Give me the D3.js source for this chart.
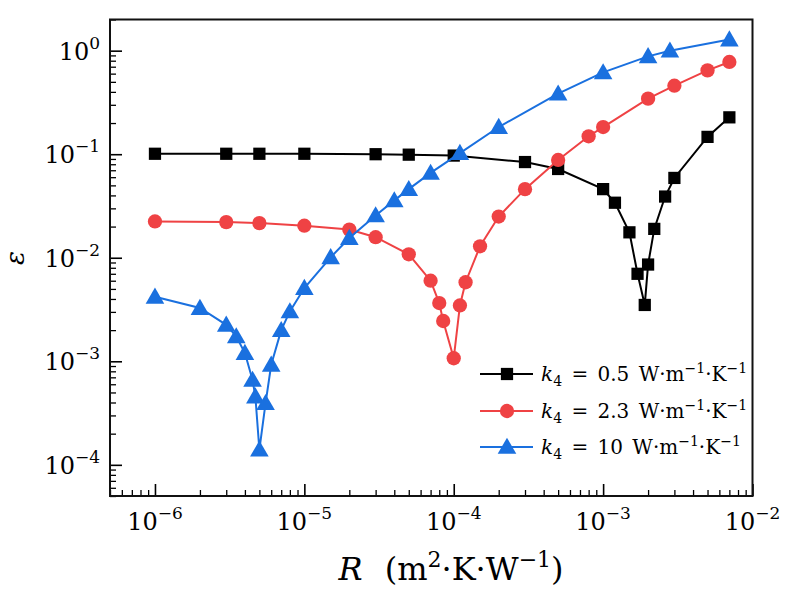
<!DOCTYPE html>
<html>
<head>
<meta charset="utf-8">
<script src="https://cdn.jsdelivr.net/npm/d3@7"></script>
<style>
  html, body { margin: 0; padding: 0; background: #fff; }
  svg { display: block; }
  text { font-family: "DejaVu Serif", serif; fill: #000; }
</style>
</head>
<body>
<svg id="chart" width="793" height="597"></svg>
<script>
// ---------------- data ----------------
const blackR = [1e-6, 3e-6, 5e-6, 1e-5, 3e-5, 5e-5, 1e-4, 3e-4, 5e-4, 1e-3, 1.2e-3, 1.5e-3, 1.7e-3, 1.9e-3, 2e-3, 2.2e-3, 2.6e-3, 3e-3, 5e-3, 7e-3];
const blackE = [0.101, 0.101, 0.101, 0.101, 0.100, 0.099, 0.097, 0.084, 0.072, 0.046, 0.034, 0.0176, 0.0070, 0.0035, 0.0086, 0.019, 0.039, 0.059, 0.147, 0.227];

const redR = [1e-6, 3e-6, 5e-6, 1e-5, 2e-5, 3e-5, 5e-5, 7e-5, 8e-5, 8.5e-5, 1e-4, 1.1e-4, 1.2e-4, 1.5e-4, 2e-4, 3e-4, 5e-4, 8e-4, 1e-3, 2e-3, 3e-3, 5e-3, 7e-3];
const redE = [0.0224, 0.0221, 0.0216, 0.0204, 0.0187, 0.0158, 0.0108, 0.0060, 0.00365, 0.00245, 0.00107, 0.00346, 0.0058, 0.0129, 0.025, 0.046, 0.088, 0.149, 0.183, 0.344, 0.459, 0.645, 0.778];

const blueR = [1e-6, 2e-6, 3e-6, 3.5e-6, 4e-6, 4.5e-6, 4.7e-6, 5e-6, 5.5e-6, 6e-6, 7e-6, 8e-6, 1e-5, 1.5e-5, 2e-5, 3e-5, 4e-5, 5e-5, 7e-5, 1.1e-4, 2e-4, 5e-4, 1e-3, 2e-3, 2.8e-3, 7e-3];
const blueE = [0.0042, 0.00327, 0.00225, 0.00174, 0.0012, 0.00066, 0.000457, 0.00014, 0.000394, 0.000925, 0.0020, 0.00303, 0.0051, 0.0101, 0.0155, 0.0256, 0.0358, 0.046, 0.066, 0.1025, 0.183, 0.384, 0.617, 0.881, 1.0, 1.28];

const seriesNames = ["0.5", "2.3", "10"];
const xTickExps = [-6, -5, -4, -3, -2];
const yTickExps = [0, -1, -2, -3, -4];
const xDomain = [5e-7, 1e-2];
const yDomain = [5e-5, 2];

// ---------------- layout ----------------
const L = 110, T = 19.5, R = 752.5, B = 496;
const svg = d3.select("#chart");
const x = d3.scaleLog().domain(xDomain).range([L, R]);
const y = d3.scaleLog().domain(yDomain).range([B, T]);

const colors = ["#000000", "#EF4244", "#1A70DF"];
const symbols = [d3.symbolSquare, d3.symbolCircle, d3.symbolTriangle];
const symSizes = [150, 160, 150];

function minorTicks(domain) {
  const out = [];
  const lo = Math.floor(Math.log10(domain[0])), hi = Math.ceil(Math.log10(domain[1]));
  for (let e = lo; e <= hi; e++) {
    for (let m = 2; m <= 9; m++) {
      const v = m * Math.pow(10, e);
      if (v >= domain[0] * 0.999 && v <= domain[1] * 1.001) out.push(v);
    }
  }
  return out;
}

// x ticks (inward)
svg.append("g").attr("transform", `translate(0,${B})`)
  .call(d3.axisBottom(x).tickValues(xTickExps.map(e => Math.pow(10, e))).tickSize(-12).tickFormat(""))
  .call(g => g.select(".domain").remove())
  .selectAll("line").attr("stroke", "#000").attr("stroke-width", 1.6);
svg.append("g").attr("transform", `translate(0,${B})`)
  .call(d3.axisBottom(x).tickValues(minorTicks(xDomain)).tickSize(-6).tickFormat(""))
  .call(g => g.select(".domain").remove())
  .selectAll("line").attr("stroke", "#000").attr("stroke-width", 1.3);

// y ticks (inward)
svg.append("g").attr("transform", `translate(${L},0)`)
  .call(d3.axisLeft(y).tickValues(yTickExps.map(e => Math.pow(10, e))).tickSize(-12).tickFormat(""))
  .call(g => g.select(".domain").remove())
  .selectAll("line").attr("stroke", "#000").attr("stroke-width", 1.6);
svg.append("g").attr("transform", `translate(${L},0)`)
  .call(d3.axisLeft(y).tickValues(minorTicks(yDomain)).tickSize(-6).tickFormat(""))
  .call(g => g.select(".domain").remove())
  .selectAll("line").attr("stroke", "#000").attr("stroke-width", 1.3);

// frame
svg.append("rect").attr("x", L).attr("y", T).attr("width", R - L).attr("height", B - T)
  .attr("fill", "none").attr("stroke", "#111").attr("stroke-width", 2);

// tick labels
function powLabel(sel, e) {
  sel.append("tspan").text("10");
  sel.append("tspan").attr("dy", -11).attr("font-size", 17).text(e < 0 ? "\u2212" + (-e) : String(e));
}
xTickExps.forEach(e => {
  const t = svg.append("text").attr("x", x(Math.pow(10, e))).attr("y", 530)
    .attr("text-anchor", "middle").attr("font-size", 24);
  powLabel(t, e);
});
yTickExps.forEach(e => {
  const t = svg.append("text").attr("x", 100).attr("y", y(Math.pow(10, e)) + 9)
    .attr("text-anchor", "end").attr("font-size", 24);
  powLabel(t, e);
});

// axis titles
const xt = svg.append("text").attr("x", 451).attr("y", 580).attr("text-anchor", "middle")
  .attr("font-size", 32).attr("word-spacing", 12);
xt.append("tspan").attr("font-style", "italic").text("R");
xt.append("tspan").text(" (m");
xt.append("tspan").attr("dy", -13).attr("font-size", 22).text("2");
xt.append("tspan").attr("dy", 13).text("\u00B7K\u00B7W");
xt.append("tspan").attr("dy", -13).attr("font-size", 22).text("\u22121");
xt.append("tspan").attr("dy", 13).text(")");

svg.append("text").attr("transform", "translate(24,258) rotate(-90)")
  .attr("text-anchor", "middle").attr("font-size", 26).attr("font-style", "italic").text("\u03B5");

// series
const allSeries = [
  { r: blackR, e: blackE },
  { r: redR, e: redE },
  { r: blueR, e: blueE }
];
const line = d3.line().x(d => x(d[0])).y(d => y(d[1]));
const plot = svg.append("g");
allSeries.forEach((s, i) => {
  const pts = s.r.map((r, k) => [r, s.e[k]]);
  plot.append("path").attr("d", line(pts)).attr("fill", "none")
    .attr("stroke", colors[i]).attr("stroke-width", 2);
  plot.selectAll(null).data(pts).enter().append("path")
    .attr("transform", d => `translate(${x(d[0])},${y(d[1])})` + (i === 2 ? " translate(0,1.5)" : ""))
    .attr("d", d3.symbol().type(symbols[i]).size(symSizes[i]))
    .attr("fill", colors[i]);
});

// legend
const legY = [374, 411, 447];
seriesNames.forEach((name, i) => {
  const g = svg.append("g");
  g.append("line").attr("x1", 480).attr("x2", 533).attr("y1", legY[i]).attr("y2", legY[i])
    .attr("stroke", colors[i]).attr("stroke-width", 2);
  g.append("path").attr("transform", `translate(507,${legY[i] + (i === 2 ? 1.5 : 0)})`)
    .attr("d", d3.symbol().type(symbols[i]).size(symSizes[i])).attr("fill", colors[i]);
  const t = g.append("text").attr("x", 541).attr("y", legY[i] + 7).attr("font-size", 20)
    .attr("word-spacing", 3);
  t.append("tspan").attr("font-style", "italic").text("k");
  t.append("tspan").attr("dy", 5).attr("font-size", 14).text("4");
  t.append("tspan").attr("dy", -5).text(" = " + name + " W\u00B7m");
  t.append("tspan").attr("dy", -8).attr("font-size", 14).text("\u22121");
  t.append("tspan").attr("dy", 8).text("\u00B7K");
  t.append("tspan").attr("dy", -8).attr("font-size", 14).text("\u22121");
});
</script>
</body>
</html>
